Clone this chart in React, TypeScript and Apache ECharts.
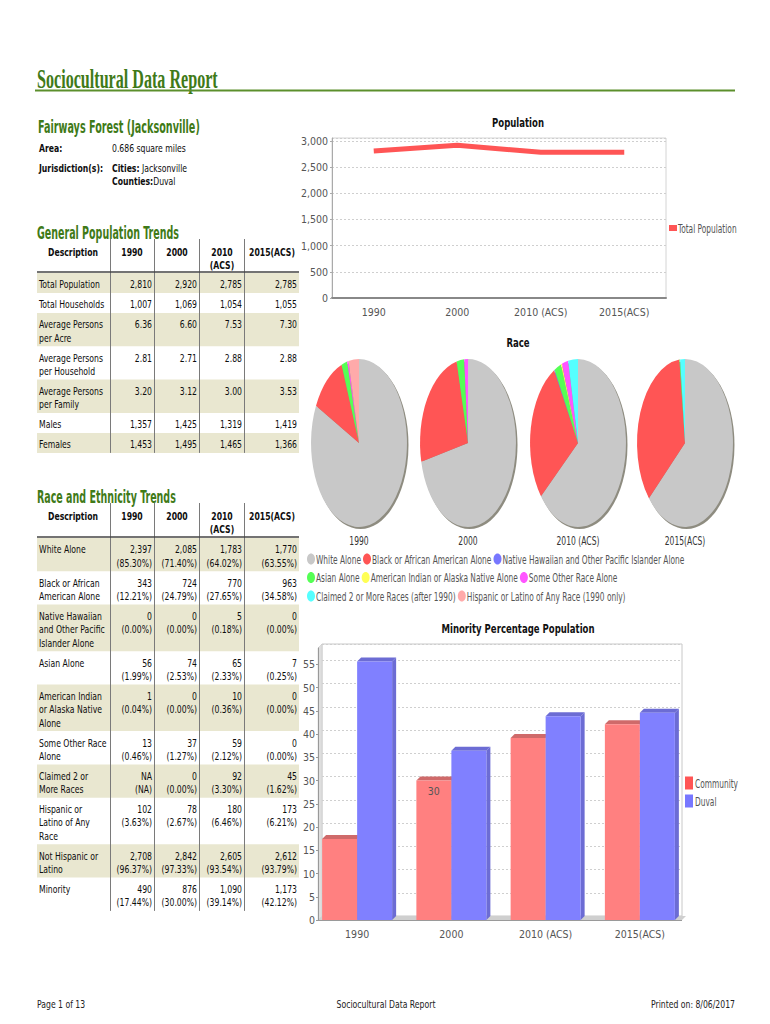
import React, { useEffect, useRef } from 'react';
import * as echarts from 'echarts';

const FONT = '"DejaVu Sans Condensed", "DejaVu Sans", sans-serif';
const SERIF = '"Liberation Serif", "DejaVu Serif", serif';
const GREEN = '#3f7a18';
const SHADE = '#e9e7d0';
const BODY_SCALE = 0.78;
const BODY_COLOR = '#0d0d0d';

// ---------- page texts ----------
const reportTitle = 'Sociocultural Data Report';
const placeName = 'Fairways Forest (Jacksonville)';
const areaLabel = 'Area:';
const areaText = '0.686 square miles';
const jurisdictionLabel = 'Jurisdiction(s):';
const cityText = 'Jacksonville';
const countyText = 'Duval';
const footerLeft = 'Page 1 of 13';
const footerCenter = 'Sociocultural Data Report';
const footerRight = 'Printed on: 8/06/2017';
const popTitle = 'Population';
const raceTitle = 'Race';
const minorityTitle = 'Minority Percentage Population';

// ---------- categories ----------
const years = ['1990', '2000', '2010 (ACS)', '2015(ACS)'];
const tableYearHeaders = [['1990'], ['2000'], ['2010', '(ACS)'], ['2015(ACS)']];

// ---------- General Population Trends ----------
const genLabels = [
  ['Total Population'],
  ['Total Households'],
  ['Average Persons', 'per Acre'],
  ['Average Persons', 'per Household'],
  ['Average Persons', 'per Family'],
  ['Males'],
  ['Females'],
];
const totalPopulation = [2810, 2920, 2785, 2785];
const totalHouseholds = [1007, 1069, 1054, 1055];
const personsPerAcre = [6.36, 6.6, 7.53, 7.3];
const personsPerHousehold = [2.81, 2.71, 2.88, 2.88];
const personsPerFamily = [3.2, 3.12, 3.0, 3.53];
const males = [1357, 1425, 1319, 1419];
const females = [1453, 1495, 1465, 1366];
const genDecimals = [false, false, true, true, true, false, false];

// ---------- Race and Ethnicity Trends ----------
const raceLabels = [
  ['White Alone'],
  ['Black or African', 'American Alone'],
  ['Native Hawaiian', 'and Other Pacific', 'Islander Alone'],
  ['Asian Alone'],
  ['American Indian', 'or Alaska Native', 'Alone'],
  ['Some Other Race', 'Alone'],
  ['Claimed 2 or', 'More Races'],
  ['Hispanic or', 'Latino of Any', 'Race'],
  ['Not Hispanic or', 'Latino'],
  ['Minority'],
];
const whiteCount = [2397, 2085, 1783, 1770];
const whitePct = [85.3, 71.4, 64.02, 63.55];
const blackCount = [343, 724, 770, 963];
const blackPct = [12.21, 24.79, 27.65, 34.58];
const nhpiCount = [0, 0, 5, 0];
const nhpiPct = [0, 0, 0.18, 0];
const asianCount = [56, 74, 65, 7];
const asianPct = [1.99, 2.53, 2.33, 0.25];
const aianCount = [1, 0, 10, 0];
const aianPct = [0.04, 0, 0.36, 0];
const otherCount = [13, 37, 59, 0];
const otherPct = [0.46, 1.27, 2.12, 0];
const twoPlusCount = [null, 0, 92, 45];
const twoPlusPct = [null, 0, 3.3, 1.62];
const hispanicCount = [102, 78, 180, 173];
const hispanicPct = [3.63, 2.67, 6.46, 6.21];
const notHispanicCount = [2708, 2842, 2605, 2612];
const notHispanicPct = [96.37, 97.33, 93.54, 93.79];
const minorityCount = [490, 876, 1090, 1173];
const minorityPct = [17.44, 30.0, 39.14, 42.12];

// ---------- Race pies ----------
const raceNames = [
  'White Alone',
  'Black or African American Alone',
  'Native Hawaiian and Other Pacific Islander Alone',
  'Asian Alone',
  'American Indian or Alaska Native Alone',
  'Some Other Race Alone',
  'Claimed 2 or More Races (after 1990)',
  'Hispanic or Latino of Any Race (1990 only)',
];
const raceColors = ['#c8c8c8', '#ff5555', '#7777ff', '#55ff55', '#ffff55', '#ff55ff', '#55ffff', '#ffaaaa'];
const pieHispanic1990Only = [3.63, 0, 0, 0];
const legendRows = [[0, 1, 2], [3, 4, 5], [6, 7]];

// ---------- Minority bars ----------
const communityMinority = [17.44, 30.0, 39.14, 42.12];
const duvalMinority = [55.6, 36.4, 43.8, 44.6];
const labeledCommunityBars = [1];
const barSeriesNames = ['Community', 'Duval'];
const barLegendColors = ['#ff5555', '#7777ff'];

// ---------- helpers ----------
const fmtInt = (v: number) => v.toLocaleString('en-US');
const fmtCount = (v: number | null) => (v === null ? 'NA' : fmtInt(v));
const fmtPct = (v: number | null) => (v === null ? '(NA)' : `(${v.toFixed(2)}%)`);

let measureCtx: CanvasRenderingContext2D | null = null;
function measure(text: string, font: string) {
  try {
    if (!measureCtx) measureCtx = document.createElement('canvas').getContext('2d');
    if (!measureCtx) return text.length * 6;
    measureCtx.font = font;
    return measureCtx.measureText(text).width;
  } catch (e) {
    return text.length * 6;
  }
}
function fitScale(text: string, font: string, target: number) {
  const w = measure(text, font);
  return w > 0 ? target / w : 1;
}

function txt(text: string, x: number, y: number, align = 'left', bold = false, size = 11, color = BODY_COLOR, scale = BODY_SCALE) {
  return {
    type: 'text',
    x,
    y,
    scaleX: scale,
    style: {
      text,
      fill: color,
      fontSize: size,
      fontFamily: FONT,
      fontWeight: bold ? 'bold' : 'normal',
      align,
      verticalAlign: 'middle',
    },
  };
}

const TL = 37;
const TR = 299;
const COL_LINES = [110, 154, 199, 244];
const VALUE_RIGHT = [152, 197, 242, 297];
const HEAD_CX = [132, 177, 222, 272];
const LINE = 13.3;

function buildTable(headerTop: number, headerBottom: number, rows: { label: string[]; cells: string[][] }[]) {
  const els: any[] = [];
  let y = headerBottom + 1;
  const rowEls: any[] = [];
  rows.forEach((row, ri) => {
    const n = Math.max(row.label.length, ...row.cells.map((c) => c.length));
    const h = 6.7 + LINE * n;
    if (ri % 2 === 0) {
      els.push({ type: 'rect', shape: { x: TL, y, width: TR - TL, height: h }, style: { fill: SHADE } });
    }
    row.label.forEach((t, k) => rowEls.push(txt(t, TL + 2, y + 11.5 + LINE * k, 'left')));
    row.cells.forEach((c, ci) => c.forEach((t, k) => rowEls.push(txt(t, VALUE_RIGHT[ci], y + 11.5 + LINE * k, 'right'))));
    y += h;
  });
  const bottom = y;
  COL_LINES.forEach((x) =>
    els.push({ type: 'line', shape: { x1: x + 0.5, y1: headerTop, x2: x + 0.5, y2: bottom }, style: { stroke: '#7a7a7a', lineWidth: 1 } })
  );
  els.push(txt('Description', 73, headerTop + 13, 'center', true));
  tableYearHeaders.forEach((lines, i) =>
    lines.forEach((t, k) => els.push(txt(t, HEAD_CX[i], headerTop + 13 + LINE * k, 'center', true)))
  );
  els.push({ type: 'line', shape: { x1: TL, y1: headerBottom, x2: TR, y2: headerBottom }, style: { stroke: '#444', lineWidth: 1.5 } });
  return els.concat(rowEls);
}

export default function App() {
  const ref = useRef<HTMLDivElement>(null);

  useEffect(() => {
    if (!ref.current) return;
    const chart = echarts.init(ref.current, undefined, { renderer: 'svg' });

    // ---- tables ----
    const genSeries = [totalPopulation, totalHouseholds, personsPerAcre, personsPerHousehold, personsPerFamily, males, females];
    const genRows = genLabels.map((label, i) => ({
      label,
      cells: genSeries[i].map((v) => [genDecimals[i] ? v.toFixed(2) : fmtInt(v)]),
    }));
    const raceCounts = [whiteCount, blackCount, nhpiCount, asianCount, aianCount, otherCount, twoPlusCount, hispanicCount, notHispanicCount, minorityCount];
    const racePcts = [whitePct, blackPct, nhpiPct, asianPct, aianPct, otherPct, twoPlusPct, hispanicPct, notHispanicPct, minorityPct];
    const raceRows = raceLabels.map((label, i) => ({
      label,
      cells: raceCounts[i].map((v, j) => [fmtCount(v as any), fmtPct(racePcts[i][j] as any)]),
    }));

    // ---- pies ----
    const pieValues = [whitePct, blackPct, nhpiPct, asianPct, aianPct, otherPct, twoPlusPct.map((v) => v ?? 0), pieHispanic1990Only];
    const pieCx = [359, 468, 578, 685];
    const pieCy = 443;
    const pieRx = 48;
    const pieRy = 84;

    const titleFont = `bold 27px ${SERIF}`;
    const headFont = `bold 17px ${FONT}`;
    const titleScale = fitScale(reportTitle, titleFont, 181);
    const placeScale = fitScale(placeName, headFont, 162);
    const genScale = fitScale('General Population Trends', headFont, 142);
    const raceScale = fitScale('Race and Ethnicity Trends', headFont, 139);
    const chartTitleScale = fitScale(popTitle, `bold 12.5px ${FONT}`, 52);
    const legendScale = fitScale(raceNames[0], `12px ${FONT}`, 45);
    const yearScale = fitScale(years[2], `12px ${FONT}`, 43);

    const heading = (text: string, x: number, y: number, s: number, size = 17, family = FONT) => ({
      type: 'text',
      x,
      y,
      scaleX: s,
      style: { text, fill: GREEN, fontSize: size, fontFamily: family, fontWeight: 'bold', align: 'left', verticalAlign: 'middle' },
    });

    const richInfo = (label: string, value: string, y: number, sep: string) => ({
      type: 'text',
      x: 112,
      y,
      scaleX: BODY_SCALE,
      style: {
        text: `{b|${label}}${sep}{n|${value}}`,
        fill: BODY_COLOR,
        fontSize: 11,
        fontFamily: FONT,
        align: 'left',
        verticalAlign: 'middle',
        rich: {
          b: { fontWeight: 'bold', fontSize: 11, fontFamily: FONT, fill: BODY_COLOR },
          n: { fontSize: 11, fontFamily: FONT, fill: BODY_COLOR },
        },
      },
    });

    // ---- legends drawn as graphics with condensed text ----
    const legendEls: any[] = [];
    legendRows.forEach((row, ri) => {
      let x = 307;
      const y = 559 + ri * 18.5;
      row.forEach((k) => {
        legendEls.push({ type: 'ellipse', shape: { cx: x + 4, cy: y, rx: 4, ry: 5.5 }, style: { fill: raceColors[k] } });
        legendEls.push(txt(raceNames[k], x + 9, y, 'left', false, 12, '#555', legendScale));
        x += 9 + measure(raceNames[k], `12px ${FONT}`) * legendScale + 2;
      });
    });
    legendEls.push({ type: 'rect', shape: { x: 669, y: 225, width: 8, height: 6 }, style: { fill: '#ff5555' } });
    legendEls.push(txt('Total Population', 678, 228, 'left', false, 12, '#555', legendScale));
    barSeriesNames.forEach((name, i) => {
      const y = 783 + i * 18;
      legendEls.push({ type: 'rect', shape: { x: 685, y: y - 6.5, width: 8, height: 13 }, style: { fill: barLegendColors[i] } });
      legendEls.push(txt(name, 695, y, 'left', false, 12, '#555', legendScale));
    });

    const graphics: any[] = [
      heading(reportTitle, 37, 79, titleScale, 27, SERIF),
      { type: 'line', shape: { x1: 35, y1: 90.5, x2: 735, y2: 90.5 }, style: { stroke: '#5c8f2c', lineWidth: 2 } },
      heading(placeName, 38, 127, placeScale),
      txt(areaLabel, 39, 148, 'left', true),
      txt(areaText, 112, 148, 'left'),
      txt(jurisdictionLabel, 39, 168, 'left', true),
      richInfo('Cities:', cityText, 168, ' '),
      richInfo('Counties:', countyText, 181, ''),
      heading('General Population Trends', 37, 233, genScale),
      ...buildTable(239, 272, genRows),
      heading('Race and Ethnicity Trends', 37, 497, raceScale),
      ...buildTable(503, 537, raceRows),
      // chart titles
      txt(popTitle, 518, 123, 'center', true, 12.5, '#111', chartTitleScale),
      txt(raceTitle, 518, 343, 'center', true, 12.5, '#111', chartTitleScale),
      txt(minorityTitle, 518, 629, 'center', true, 12.5, '#111', chartTitleScale),
      // pie rims + year labels
      ...pieCx.map((cx) => ({
        type: 'ellipse',
        shape: { cx: cx + 1.5, cy: pieCy + 2, rx: pieRx, ry: pieRy },
        style: { fill: '#8e8c80' },
      })),
      ...years.map((y, i) => txt(y, pieCx[i], 540, 'center', false, 12, '#333', yearScale)),
      ...legendEls,
      // 3D bar wall and floor
      { type: 'polygon', shape: { points: [[318, 648], [322, 644], [322, 916], [318, 920]] }, style: { fill: '#dedede', stroke: '#c4c4c4', lineWidth: 0.5 } },
      { type: 'polygon', shape: { points: [[318, 920], [322, 916], [686, 916], [682, 920]] }, style: { fill: '#cfcfcf' } },
      { type: 'line', shape: { x1: 318, y1: 920.5, x2: 682, y2: 920.5 }, style: { stroke: '#9a9a9a', lineWidth: 1 } },
      // footer
      txt(footerLeft, 37, 1004, 'left', false, 11, '#222'),
      txt(footerCenter, 386, 1004, 'center', false, 11, '#222'),
      txt(footerRight, 735, 1004, 'right', false, 11, '#222'),
    ];

    const axisLabel = { fontFamily: FONT, fontSize: 10.5, color: '#555' };

    const raceSeries = raceNames.map((name, r) => ({
      type: 'custom',
      name,
      coordinateSystem: 'none',
      silent: true,
      itemStyle: { color: raceColors[r] },
      data: years.map((_, i) => [i, pieValues[r][i]]),
      renderItem: (params: any, api: any) => {
        const yi = params.dataIndex;
        const v = pieValues[r][yi] as number;
        if (!v) return null;
        let total = 0;
        let before = 0;
        pieValues.forEach((arr, k) => {
          const val = (arr[yi] as number) || 0;
          total += val;
          if (k < r) before += val;
        });
        const start = -Math.PI / 2 + (before / total) * Math.PI * 2;
        const end = start + (v / total) * Math.PI * 2;
        return {
          type: 'sector',
          x: pieCx[yi],
          y: pieCy,
          scaleX: pieRx / pieRy,
          shape: { cx: 0, cy: 0, r0: 0, r: pieRy, startAngle: start, endAngle: end, clockwise: true },
          style: { fill: api.visual('color') },
        };
      },
    }));

    const BAR_W = 35;
    const DEPTH = 4;

    const option: any = {
      animation: false,
      textStyle: { fontFamily: FONT },
      graphic: { elements: graphics },
      grid: [
        { left: 332, top: 138, width: 334, height: 160, show: true, borderColor: '#d4d4d4', borderWidth: 1 },
        { left: 322, top: 644, width: 360, height: 272, show: true, borderColor: '#c8c8c8', borderWidth: 1 },
        { left: 310, top: 648, width: 377, height: 272 },
      ],
      xAxis: [
        {
          gridIndex: 0,
          type: 'category',
          data: years,
          boundaryGap: true,
          axisLine: { lineStyle: { color: '#888', width: 2 } },
          axisTick: { show: false },
          axisLabel: { ...axisLabel, margin: 8 },
        },
        { gridIndex: 1, type: 'category', data: years, show: false },
        {
          gridIndex: 2,
          type: 'category',
          data: years,
          axisLine: { show: false },
          axisTick: { show: false },
          axisLabel: { ...axisLabel, margin: 8 },
        },
      ],
      yAxis: [
        {
          gridIndex: 0,
          type: 'value',
          min: 0,
          max: 3057,
          interval: 500,
          axisLine: { show: true, lineStyle: { color: '#aaa' } },
          axisTick: { show: true, length: 2, lineStyle: { color: '#aaa' } },
          axisLabel: { ...axisLabel, margin: 4, showMaxLabel: false, formatter: (v: number) => fmtInt(v) },
          splitLine: { lineStyle: { color: '#cfcfcf', type: [2, 2] } },
        },
        {
          gridIndex: 1,
          type: 'value',
          min: 0,
          max: 58.5,
          interval: 5,
          axisLine: { show: false },
          axisTick: { show: false },
          axisLabel: { show: false },
          splitLine: { lineStyle: { color: '#cfcfcf', type: [2, 2] } },
        },
        {
          gridIndex: 2,
          type: 'value',
          min: 0,
          max: 58.5,
          interval: 5,
          offset: -8,
          axisLine: { show: true, lineStyle: { color: '#999' } },
          axisTick: { show: true, length: 2, lineStyle: { color: '#999' } },
          axisLabel: { ...axisLabel, margin: 3, showMaxLabel: false },
          splitLine: { show: false },
        },
      ],
      series: [
        {
          type: 'line',
          name: 'Total Population',
          xAxisIndex: 0,
          yAxisIndex: 0,
          data: totalPopulation,
          showSymbol: false,
          symbol: 'none',
          lineStyle: { color: '#ff5555', width: 5 },
          itemStyle: { color: '#ff5555' },
        },
        ...raceSeries,
        {
          type: 'custom',
          name: '3d faces',
          xAxisIndex: 2,
          yAxisIndex: 2,
          z: 1,
          silent: true,
          encode: { x: 0, y: [1, 2] },
          data: years.map((_, i) => [i, communityMinority[i], duvalMinority[i]]),
          renderItem: (params: any, api: any) => {
            const i = api.value(0);
            const [cx, yC] = api.coord([i, api.value(1)]);
            const yD = api.coord([i, api.value(2)])[1];
            const base = api.coord([i, 0])[1];
            const l1 = cx - BAR_W;
            const r1 = cx;
            const l2 = cx;
            const r2 = cx + BAR_W;
            const d = DEPTH;
            const poly = (pts: number[][], fill: string) => ({ type: 'polygon', shape: { points: pts }, style: { fill } });
            return {
              type: 'group',
              children: [
                poly([[l1, yC], [l1 + d, yC - d], [r1 + d, yC - d], [r1, yC]], '#cf6a6a'),
                poly([[r1, yC], [r1 + d, yC - d], [r1 + d, base - d], [r1, base]], '#cf6a6a'),
                poly([[l2, yD], [l2 + d, yD - d], [r2 + d, yD - d], [r2, yD]], '#6c6cd4'),
                poly([[r2, yD], [r2 + d, yD - d], [r2 + d, base - d], [r2, base]], '#6c6cd4'),
              ],
            };
          },
        },
        {
          type: 'bar',
          name: barSeriesNames[0],
          xAxisIndex: 2,
          yAxisIndex: 2,
          z: 3,
          barWidth: BAR_W,
          barGap: '0%',
          itemStyle: { color: '#ff8080' },
          data: communityMinority.map((v, i) =>
            labeledCommunityBars.includes(i)
              ? {
                  value: v,
                  label: {
                    show: true,
                    position: 'insideTop',
                    distance: 5,
                    color: '#555',
                    fontSize: 10.5,
                    fontFamily: FONT,
                    formatter: (p: any) => String(Math.round(p.value)),
                  },
                }
              : v
          ),
        },
        {
          type: 'bar',
          name: barSeriesNames[1],
          xAxisIndex: 2,
          yAxisIndex: 2,
          z: 3,
          barWidth: BAR_W,
          barGap: '0%',
          itemStyle: { color: '#8080ff' },
          data: duvalMinority,
        },
      ],
    };

    chart.setOption(option);
    return () => chart.dispose();
  }, []);

  return (
    <div
      ref={ref}
      style={{ position: 'absolute', left: 0, top: 0, width: 770, height: 1024, background: '#fff' }}
    />
  );
}
